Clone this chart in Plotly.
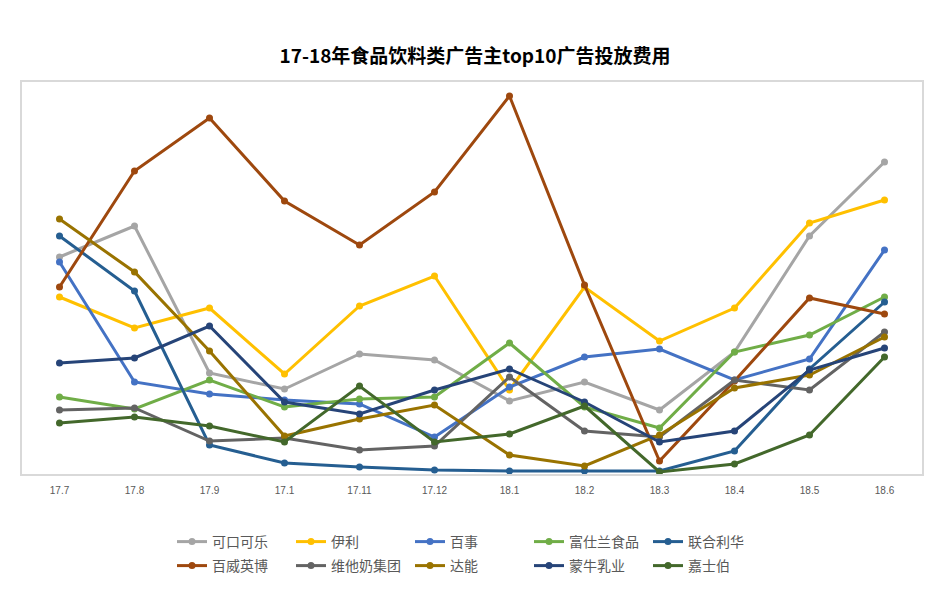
import plotly.graph_objects as go

months = ["17.7", "17.8", "17.9", "17.1", "17.11", "17.12", "18.1", "18.2", "18.3", "18.4", "18.5", "18.6"]

kekoukele = [217, 248, 101, 85, 120, 114, 73, 92, 64, 122, 238, 312]
yili = [177, 146, 166, 100, 168, 198, 84, 187, 133, 166, 251, 274]
baishi = [212, 92, 80, 74, 70, 37, 87, 117, 125, 94, 115, 224]
fushilan = [77, 65, 94, 67, 75, 77, 131, 67, 46, 122, 139, 177]
lianheliha = [238, 183, 29, 11, 7, 4, 3, 3, 3, 23, 105, 172]
baiwei = [187, 303, 356, 273, 229, 282, 378, 189, 13, 93, 176, 160]
weitanai = [64, 66, 33, 36, 24, 28, 97, 43, 37, 94, 84, 142]
daneng = [255, 202, 123, 38, 55, 69, 19, 8, 39, 86, 99, 137]
mengniu = [111, 116, 148, 72, 60, 84, 105, 72, 32, 43, 104, 126]
jiashibo = [51, 57, 48, 32, 88, 32, 40, 68, 2, 10, 39, 117]

series = [
    ("可口可乐", kekoukele, "#A5A5A5"),
    ("伊利", yili, "#FFC000"),
    ("百事", baishi, "#4472C4"),
    ("富仕兰食品", fushilan, "#70AD47"),
    ("联合利华", lianheliha, "#255E91"),
    ("百威英博", baiwei, "#9E480E"),
    ("维他奶集团", weitanai, "#636363"),
    ("达能", daneng, "#997300"),
    ("蒙牛乳业", mengniu, "#264478"),
    ("嘉士伯", jiashibo, "#43682B"),
]

fig = go.Figure()
for i, (name, vals, color) in enumerate(series):
    fig.add_trace(go.Scatter(
        x=months, y=vals, name=name, mode="lines+markers",
        line=dict(color=color, width=3),
        marker=dict(color=color, size=7, symbol="circle"),
        legend="legend" if i < 5 else "legend2",
    ))

W, H = 931, 607
L, T, PW, PH = 14, 74, 900, 392

legend_common = dict(
    orientation="h", xanchor="left", yanchor="top",
    entrywidth=74, entrywidthmode="pixels",
    font=dict(size=14, color="#595959", family="Noto Sans CJK SC, sans-serif"),
    itemwidth=30, traceorder="normal", bgcolor="rgba(0,0,0,0)",
)

fig.update_layout(
    width=W, height=H,
    margin=dict(l=L, r=W - L - PW, t=T, b=H - T - PH, autoexpand=False),
    paper_bgcolor="white", plot_bgcolor="white",
    font=dict(family="Noto Sans CJK SC, sans-serif", color="#595959"),
    title=dict(
        text="<b>17-18年食品饮料类广告主top10广告投放费用</b>",
        x=(467 - L) / PW, xref="paper", xanchor="center",
        y=1 - 48 / H, yref="container", yanchor="middle",
        font=dict(size=19, color="#000000", family="Noto Sans CJK SC, sans-serif"),
    ),
    xaxis=dict(
        type="category", categoryorder="array", categoryarray=months,
        range=[-0.5, 11.5], showgrid=False, zeroline=False,
        showline=True, mirror=True, linecolor="#D9D9D9", linewidth=1.5,
        ticks="", tickfont=dict(size=10, color="#595959", family="Liberation Sans Narrow, Liberation Sans, sans-serif"),
        ticklabelstandoff=6,
    ),
    yaxis=dict(
        range=[0, 392], showgrid=False, zeroline=False, showticklabels=False,
        showline=True, mirror=True, linecolor="#D9D9D9", linewidth=1.5, ticks="",
    ),
    legend=dict(x=(164 - L) / PW, y=(T + PH - 518) / PH, **legend_common),
    legend2=dict(x=(164 - L) / PW, y=(T + PH - 542) / PH, **legend_common),
    showlegend=True,
)

fig.write_html("out.html")
